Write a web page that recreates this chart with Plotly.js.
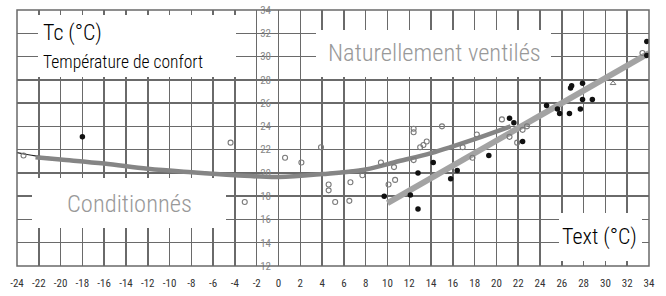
<!DOCTYPE html>
<html>
<head>
<meta charset="utf-8">
<script src="https://cdn.plot.ly/plotly-3.0.1.min.js"></script>
<style>html,body{margin:0;padding:0;background:#fff;}#chart{width:666px;height:296px;}</style>
</head>
<body>
<div id="chart"></div>
<script>
// ---- data ----
var xTickVals = [-24,-22,-20,-18,-16,-14,-12,-10,-8,-6,-4,-2,0,2,4,6,8,10,12,14,16,18,20,22,24,26,28,30,32,34];
var yTickVals = [12,14,16,18,20,22,24,26,28,30,32,34];

// conditioned buildings (open circles)
var condPtsX = [-23.4,-4.4,-3.1,0.6,2.1,3.9,4.6,4.6,5.2,6.6,6.5,7.7,9.4,10.1,10.6,10.7,12.4,12.4,12.4,13.3,13.6,13.0,15.0,16.9,18.2,17.8,20.5,21.2,21.9,22.4,22.8,33.4];
var condPtsY = [21.5,22.6,17.5,21.3,20.9,22.2,19.0,18.5,17.5,19.2,17.6,19.8,20.9,19.0,20.5,19.4,23.8,23.5,21.1,22.4,22.7,22.2,24.0,22.2,23.3,21.3,24.6,23.1,22.6,23.7,24.0,30.3];

// naturally ventilated buildings (filled dots)
var natPtsX = [-18,9.7,12.1,12.8,12.8,14.2,16.4,15.8,19.3,21.2,21.6,22.4,24.6,25.6,25.8,26.7,26.8,26.9,27.9,27.9,28.8,27.7,33.8,33.8];
var natPtsY = [23.1,18.0,18.1,20.0,16.9,20.9,20.2,19.5,21.5,24.7,24.3,22.7,25.8,25.5,25.1,25.1,27.3,27.5,27.7,26.3,26.3,25.5,31.3,30.1];

var triX = [30.7];
var triY = [27.7];

// comfort curve, conditioned buildings
var condCurveX = [-22.3,-20,-16,-12,-8,-4,0,4,8,11,14,18,21.3];
var condCurveY = [21.35,21.15,20.8,20.35,20.05,19.8,19.65,19.9,20.3,21.0,21.7,22.9,24.0];
var condThinX = [-24,-22.3,-18,-12.7,-8,-4,0,4,8,10];
var condThinY = [21.75,21.47,21.0,20.45,20.13,19.88,19.73,19.98,20.38,20.7];

// comfort line, naturally ventilated buildings
var natLineX = [10,34];
var natLineY = [17.4,30.3];

// ---- layout helpers (pixels -> paper) ----
var L = 17, R = 649, T = 10, B = 266;
function px(x){ return (x - L) / (R - L); }
function py(y){ return (B - y) / (B - T); }
var FONT = '"Roboto Condensed", "Liberation Sans Narrow", "Arial Narrow", "Liberation Sans", Arial, sans-serif';
var GRID = '#6a6a6a';

var traces = [
  {x: condThinX, y: condThinY, mode: 'lines', line: {color: '#222', width: 1.2, shape: 'spline'}, hoverinfo: 'skip'},
  {x: condCurveX, y: condCurveY, mode: 'lines', line: {color: '#858585', width: 4.5, shape: 'spline'}, hoverinfo: 'skip'},
  {x: natLineX, y: natLineY, mode: 'lines', line: {color: '#a3a3a3', width: 6}, hoverinfo: 'skip'},
  {x: condPtsX, y: condPtsY, mode: 'markers', marker: {symbol: 'circle-open', size: 5, color: '#7a7a7a', line: {width: 1.1}}},
  {x: natPtsX, y: natPtsY, mode: 'markers', marker: {symbol: 'circle', size: 5.5, color: '#111'}},
  {x: triX, y: triY, mode: 'markers', marker: {symbol: 'triangle-up-open', size: 5, color: '#777', line: {width: 1}}}
];

function box(x0, y0, x1, y1){
  return {type: 'rect', xref: 'paper', yref: 'paper', x0: px(x0), x1: px(x1), y0: py(y1), y1: py(y0),
          fillcolor: '#fff', line: {width: 0}, layer: 'above'};
}

var layout = {
  width: 666, height: 296,
  margin: {l: L, r: 666 - R, t: T, b: 296 - B, pad: 0},
  paper_bgcolor: '#fff', plot_bgcolor: '#fff',
  showlegend: false,
  xaxis: {
    range: [-24, 34], tickmode: 'array', tickvals: xTickVals, ticktext: xTickVals.map(String),
    showgrid: true, gridcolor: GRID, gridwidth: 1.5, zeroline: false,
    showline: false, ticks: '', ticklabelstandoff: 9,
    tickfont: {family: FONT, size: 11, color: '#333'}
  },
  yaxis: {
    range: [12, 34], tickmode: 'array', tickvals: yTickVals, ticktext: yTickVals.map(String),
    showgrid: true, gridcolor: GRID, gridwidth: 1.5, zeroline: false,
    showline: false, ticks: '', anchor: 'free', position: px(271),
    tickfont: {family: FONT, size: 11, color: '#888'}
  },
  shapes: [
    box(38, 15, 236, 77),
    box(316, 30, 551, 77),
    box(32, 178, 226, 228),
    box(559, 213, 642, 261),
    {type: 'rect', xref: 'paper', yref: 'paper', x0: 0, x1: 1, y0: 0, y1: 1, line: {color: GRID, width: 1.5}, layer: 'above'}
  ],
  annotations: [
    {text: 'Tc (°C)', xref: 'paper', yref: 'paper', x: px(41), y: py(33), xanchor: 'left', yanchor: 'middle', showarrow: false, font: {family: FONT, size: 22, weight: 300, color: '#000'}},
    {text: 'Température de confort', xref: 'paper', yref: 'paper', x: px(41), y: py(62), xanchor: 'left', yanchor: 'middle', showarrow: false, font: {family: FONT, size: 17.5, weight: 300, color: '#000'}},
    {text: 'Naturellement ventilés', xref: 'paper', yref: 'paper', x: px(434), y: py(52), xanchor: 'center', yanchor: 'middle', showarrow: false, font: {family: FONT, size: 24.5, weight: 300, color: '#999'}},
    {text: 'Conditionnés', xref: 'paper', yref: 'paper', x: px(129), y: py(203), xanchor: 'center', yanchor: 'middle', showarrow: false, font: {family: FONT, size: 24.5, weight: 300, color: '#999'}},
    {text: 'Text (°C)', xref: 'paper', yref: 'paper', x: px(599), y: py(237), xanchor: 'center', yanchor: 'middle', showarrow: false, font: {family: FONT, size: 22, weight: 300, color: '#000'}}
  ]
};

Plotly.newPlot('chart', traces, layout, {staticPlot: true, displayModeBar: false});
</script>
</body>
</html>
